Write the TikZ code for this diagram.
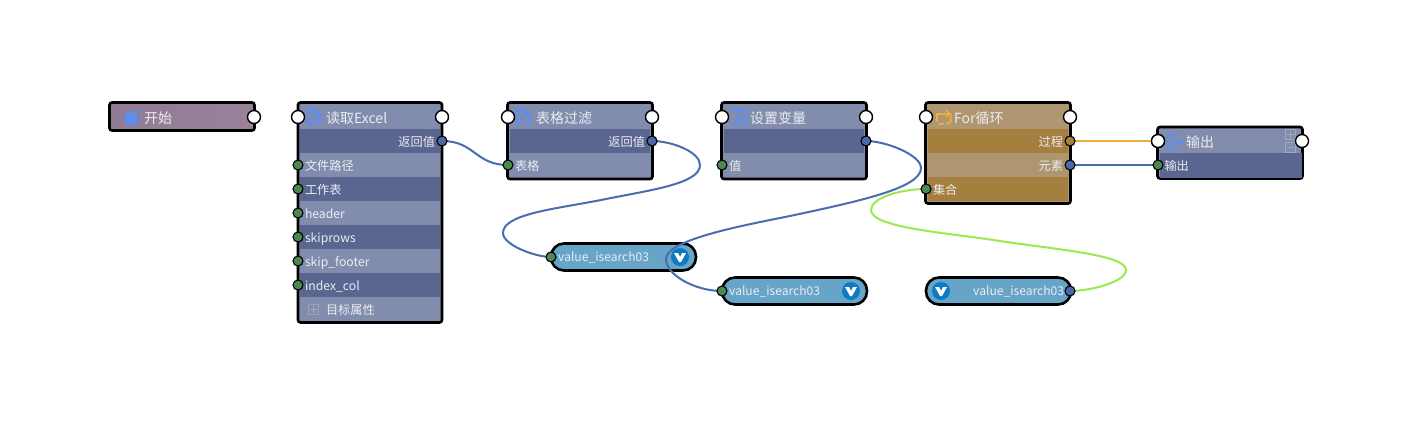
\documentclass[tikz,border=0pt]{standalone}
\usepackage{fontspec}
\setmainfont{Noto Sans CJK SC}
\definecolor{rowdark}{HTML}{5A6690}
\definecolor{rowlight}{HTML}{828CAD}
\definecolor{brdark}{HTML}{A47F3F}
\definecolor{brlight}{HTML}{AD9670}
\definecolor{pillc}{HTML}{66A4C8}
\definecolor{portb}{HTML}{4A69A8}
\definecolor{portg}{HTML}{4A8A50}
\definecolor{portbr}{HTML}{A5823F}
\definecolor{lineb}{HTML}{4A6CB0}
\definecolor{lineo}{HTML}{F0AD3E}
\definecolor{lineg}{HTML}{9BE84F}
\definecolor{txt}{HTML}{ECECF2}
\definecolor{iconb}{HTML}{5B8EF0}
\definecolor{icono}{HTML}{F0AE40}
\definecolor{vblue}{HTML}{1079C0}
\definecolor{btn}{HTML}{A4A9BC}
\definecolor{startl}{HTML}{907C96}
\definecolor{startr}{HTML}{9A8199}
\tikzset{
  blockbase/.style={draw=black,line width=2.6pt,rounded corners=2.5pt,anchor=north west,inner sep=0pt,outer sep=0pt},
  blocknode/.style={blockbase,fill=rowlight},
  forblock/.style={blockbase,fill=brlight},
  startblock/.style={blockbase,left color=startl,right color=startr},
  pill/.style={draw=black,line width=2.6pt,fill=pillc,rounded corners=13pt,anchor=north west,inner sep=0pt,outer sep=0pt,minimum height=27pt},
  rowtext/.style={anchor=north west,text=txt,font=\fontsize{12.2pt}{14pt}\selectfont,minimum height=24pt,inner xsep=5pt,inner ysep=0pt,outer sep=0pt,text height=11.5pt,text depth=1.5pt,text width=130pt},
  rowl/.style={rowtext,align=left},
  rowr/.style={rowtext,align=right},
  head/.style={anchor=west,text=txt,font=\fontsize{14pt}{16pt}\selectfont,inner sep=0pt},
  pilltext/.style={anchor=west,text=txt,font=\fontsize{12.1pt}{14pt}\selectfont,inner sep=0pt},
  flow/.style={circle,draw=black,line width=1.4pt,fill=white,minimum size=13pt,inner sep=0pt},
  pb/.style={circle,draw=black,line width=1.1pt,fill=portb,minimum size=10pt,inner sep=0pt},
  pg/.style={circle,draw=black,line width=1.1pt,fill=portg,minimum size=10pt,inner sep=0pt},
  pbr/.style={circle,draw=black,line width=1.1pt,fill=portbr,minimum size=10pt,inner sep=0pt},
  conn/.style={line width=2pt,draw=lineb},
  ico/.style={line width=2pt,draw=iconb,line cap=round,line join=round},
  icoo/.style={line width=2pt,draw=icono,line cap=round,line join=round},
  btnbox/.style={draw=btn,line width=0.8pt,minimum size=10pt,inner sep=0pt},
  vcirc/.style={circle,fill=vblue,minimum size=18pt,inner sep=0pt},
}
\newcommand{\docicon}[2]{\begin{scope}[shift={(#1,#2)}]
  \draw[ico] (-3,7) -- (-6,7) -- (-6,-7) -- (1,-7) -- (6,-2) -- (6,7) -- (4,7);
  \draw[ico,line width=1.2pt] (-2,1) -- (2,6.5) (2,1) -- (-2,6.5);
  \draw[ico,line width=1.2pt] (1,-7) -- (1,-2) -- (6,-2);
\end{scope}}
\newcommand{\vmark}[2]{\begin{scope}[shift={(#1,#2)}]
  \fill[white] (-6,-4) -- (-2,-4) -- (0,0) -- (2,-4) -- (6,-4) -- (1,5) -- (-1,5) -- cycle;
\end{scope}}
\begin{document}
\begin{tikzpicture}[x=1pt,y=-1pt]
\useasboundingbox (0,0) rectangle (1412,426);
\fill[white] (0,0) rectangle (1412,426);

% start
\node[startblock,minimum width=145pt,minimum height=28pt] (startb) at (109.5,102.5) {};
\fill[iconb] (125,113) rectangle (137,125);
\draw[iconb,line width=0.9pt] (129,113) -- (129,110) -- (141,110) -- (141,121) -- (137,121);
\node[head] (startt) at (144,118) {开始};

% Excel
\node[blocknode,minimum width=144pt,minimum height=220pt] (excel) at (298,102.5) {};
\node[rowr,fill=rowdark] (e1) at (300,129) {返回值};
\node[rowl] (e2) at (300,153) {文件路径};
\node[rowl,fill=rowdark] (e3) at (300,177) {工作表};
\node[rowl] (e4) at (300,201) {header};
\node[rowl,fill=rowdark] (e5) at (300,225) {skiprows};
\node[rowl] (e6) at (300,249) {skip\_footer};
\node[rowl,fill=rowdark] (e7) at (300,273) {index\_col};
\node[rowl,text width=114pt,xshift=21pt] (e8) at (300,297) {目标属性};
\node[btnbox,draw=btn!80!rowlight] (eb) at (313,309) {};
\draw[btn,line width=0.8pt] (309.5,309) -- (316.5,309) (313,305.5) -- (313,312.5);
\docicon{314}{117}
\node[head] (et) at (326,118) {读取Excel};

% filter
\node[blocknode,minimum width=145pt,minimum height=76.5pt] (filter) at (507.5,102.5) {};
\node[rowr,fill=rowdark] (f1) at (510,129) {返回值};
\node[rowl] (f2) at (510,153) {表格};
\docicon{523}{117}
\node[head] (ft) at (536,118) {表格过滤};

% set var
\node[blocknode,minimum width=145pt,minimum height=76.5pt] (setv) at (721.5,102.5) {};
\node[rowl,fill=rowdark] (s1) at (724,129) {};
\node[rowl] (s2) at (724,153) {值};
\draw[ico] (732,110.5) -- (746.5,110.5) -- (746.5,117) (744,124) -- (732,124) -- cycle;
\draw[ico,line width=1.4pt] (736,114) -- (741,121) (741,114) -- (736,121);
\draw[iconb,line width=1.4pt] (744.5,122) circle (2.5);
\node[head] (st) at (750,118) {设置变量};

% for
\node[forblock,minimum width=145pt,minimum height=101pt] (forb) at (925.5,102.5) {};
\node[rowr,fill=brdark] (o1) at (928,129) {过程};
\node[rowr] (o2) at (928,153) {元素};
\node[rowl,fill=brdark] (o3) at (928,177) {集合};
\draw[icoo] (937,121) -- (937,114) -- (949,114);
\draw[icoo] (950.5,114) -- (950.5,122) -- (947,124);
\draw[icoo] (939,124) -- (943,124);
\draw[icoo,line width=1.4pt] (946,110.5) -- (949.5,114) -- (946,117);
\node[head] (ot) at (954,118) {For循环};

% output
\node[blocknode,minimum width=145pt,minimum height=51.5pt] (outb) at (1157.5,127) {};
\node[rowl,fill=rowdark,text width=132pt,minimum height=24.5pt] (u1) at (1159.5,153) {输出};
\draw[ico] (1178,135) -- (1168,135) -- (1168,148) -- (1178,148);
\draw[ico] (1172,141.5) -- (1182,141.5);
\draw[ico,line width=1.4pt] (1179,139) -- (1182,141.5) -- (1179,144);
\node[head] (ut) at (1186,142.5) {输出};
\node[btnbox] (bp) at (1290,134.5) {};
\node[btnbox] (bm) at (1290,147) {};
\draw[btn,line width=0.9pt] (1286.5,134.5) -- (1293.5,134.5) (1290,131) -- (1290,138) (1286.5,147) -- (1293.5,147);

% pills
\node[pill,minimum width=145pt] (v1) at (551,243.5) {};
\node[pill,minimum width=145pt] (v2) at (722,277.5) {};
\node[pill,minimum width=145pt] (v3) at (926,277.5) {};
\node[pilltext] (v1t) at (558,257.5) {value\_isearch03};
\node[pilltext] (v2t) at (729,291.5) {value\_isearch03};
\node[pilltext] (v3t) at (973,291.5) {value\_isearch03};

% ports
\node[flow] (startout) at (254,117) {};
\node[flow] (exin) at (298,117) {};
\node[flow] (exout) at (442,117) {};
\node[flow] (fin) at (508,117) {};
\node[flow] (fout) at (652,117) {};
\node[flow] (sin) at (722,117) {};
\node[flow] (sout) at (866,117) {};
\node[flow] (oin) at (926,117) {};
\node[flow] (oout) at (1070,117) {};
\node[flow] (uin) at (1158,141) {};
\node[flow] (uout) at (1302,141) {};

\coordinate (exret) at (442,141);
\coordinate (ftab) at (508,165);
\coordinate (fret) at (652,141);
\coordinate (v1in) at (551,257);
\coordinate (sret) at (866,141);
\coordinate (v2in) at (722,291);
\coordinate (oset) at (926,189);
\coordinate (v3out) at (1070,291);
\coordinate (oproc) at (1070,141);
\coordinate (oelem) at (1070,165);
\coordinate (uval) at (1158,165);

% connectors
\draw[conn] (exret) .. controls (475,141) and (475,165) .. (ftab);
\draw[conn] (fret) .. controls (672,141) and (700,152) .. (700,165)
  .. controls (700,184) and (650,190) .. (601,200)
  .. controls (555,209) and (503,214) .. (503,233)
  .. controls (503,245) and (535,257) .. (v1in);
\draw[conn] (sret) .. controls (886,141) and (921,155) .. (921,168)
  .. controls (921,188) and (860,201) .. (790,216)
  .. controls (740,226) and (666,240) .. (666,259)
  .. controls (666,275) and (695,291) .. (v2in);
\draw[conn,draw=lineg] (oset) .. controls (900,189) and (871,198) .. (871,210)
  .. controls (871,228) and (950,233) .. (1000,241)
  .. controls (1060,250) and (1126,255) .. (1126,270)
  .. controls (1126,282) and (1090,291) .. (v3out);
\draw[conn,draw=lineo] (oproc) -- (uin);
\draw[conn] (oelem) -- (uval);

% value icons
\node[vcirc] (v1c) at (680,257) {};
\node[vcirc] (v2c) at (851,291) {};
\node[vcirc] (v3c) at (941,291) {};
\vmark{680}{257}
\vmark{851}{291}
\vmark{941}{291}

% data ports
\node[pb] (pexret) at (exret) {};
\node[pb] (pfret) at (fret) {};
\node[pb] (psret) at (sret) {};
\node[pbr] (poproc) at (oproc) {};
\node[pb] (poelem) at (oelem) {};
\node[pb] (pv3) at (v3out) {};
\node[pg] (pe2) at (298,165) {};
\node[pg] (pe3) at (298,189) {};
\node[pg] (pe4) at (298,213) {};
\node[pg] (pe5) at (298,237) {};
\node[pg] (pe6) at (298,261) {};
\node[pg] (pe7) at (298,285) {};
\node[pg] (pftab) at (ftab) {};
\node[pg] (psval) at (722,165) {};
\node[pg] (poset) at (oset) {};
\node[pg] (puval) at (uval) {};
\node[pg] (pv1) at (v1in) {};
\node[pg] (pv2) at (v2in) {};
\node[flow] (uin2) at (uin) {};
\end{tikzpicture}
\end{document}
